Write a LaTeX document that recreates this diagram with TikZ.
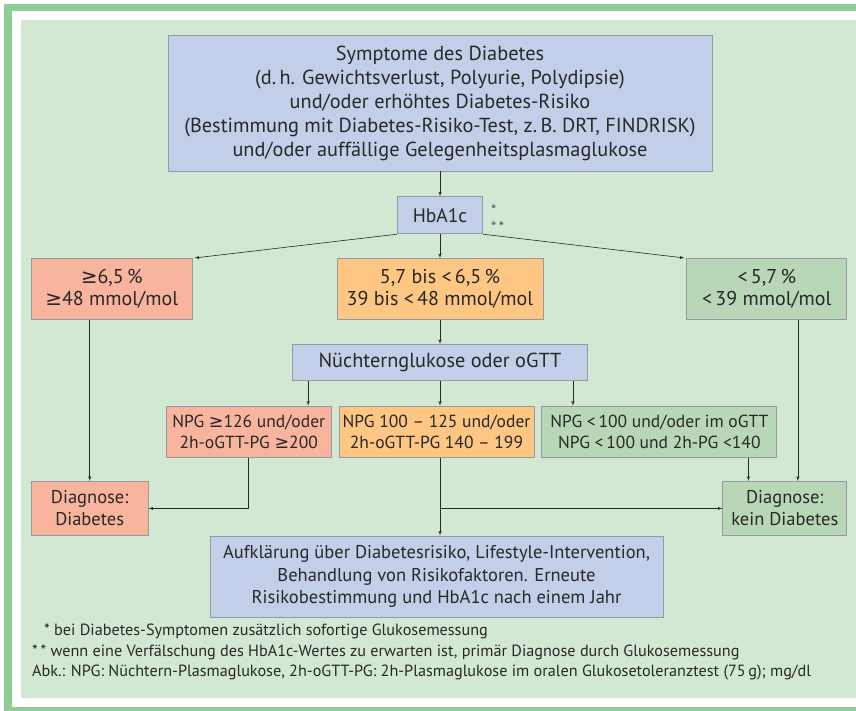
\documentclass[tikz,border=0pt]{standalone}
\usepackage{fontspec}
\setmainfont{PT Sans}
\newfontfamily\symfont{DejaVu Sans}
\newcommand{\gesym}{{\symfont ≥}}
\usepackage{tikz}
\usetikzlibrary{arrows,positioning,calc}
\definecolor{framegreen}{RGB}{143,204,150}
\definecolor{bggreen}{RGB}{211,232,211}
\definecolor{boxblue}{RGB}{195,206,232}
\definecolor{boxred}{RGB}{248,180,156}
\definecolor{boxorange}{RGB}{253,198,130}
\definecolor{boxgreen}{RGB}{183,215,183}
\definecolor{edgegray}{RGB}{150,152,162}
\definecolor{ink}{RGB}{40,40,40}
\tikzset{
    block/.style={rectangle, draw=edgegray, line width=0.8pt, text=ink, align=center, inner sep=0pt},
    infobox/.style={block, fill=boxblue},
    highbox/.style={block, fill=boxred},
    midbox/.style={block, fill=boxorange},
    lowbox/.style={block, fill=boxgreen},
    line/.style={draw=ink, line width=0.6pt, -latex'},
    note/.style={anchor=west, inner sep=0pt, text=ink, font=\fontsize{16.2}{18}\selectfont}
}

\begin{document}
\begin{tikzpicture}[x=1pt, y=-1pt]
    % Frame
    \useasboundingbox (0,0) rectangle (856,711);
    \fill [framegreen] (4,4) rectangle (856,711);
    \fill [white] (12,11) rectangle (856,707);
    \fill [bggreen] (21,20) rectangle (856,698);

    % Start
    \node [infobox, minimum width=544pt, minimum height=136pt, font=\fontsize{20.3}{24}\selectfont] (symptome) at (440,103)
        {Symptome des Diabetes\\(d.\,h. Gewichtsverlust, Polyurie, Polydipsie)\\und/oder erhöhtes Diabetes-Risiko\\(Bestimmung mit Diabetes-Risiko-Test, z.\,B. DRT, FINDRISK)\\und/oder auffällige Gelegenheitsplasmaglukose};
    \node [infobox, minimum width=85pt, minimum height=37pt, font=\fontsize{19.5}{24}\selectfont, below=25pt of symptome] (hba) {HbA1c};
    \node [anchor=west, inner sep=0pt, text=ink!80, font=\fontsize{15}{16}\selectfont] (star1) at ($(hba.east)+(8pt,5pt)$) {*};
    \node [anchor=west, inner sep=0pt, text=ink!80, font=\fontsize{15}{16}\selectfont] (star2) at ($(hba.east)+(8pt,-12pt)$) {*\,*};

    % HbA1c ranges
    \node [midbox, minimum width=206pt, minimum height=61pt, font=\fontsize{20}{22}\selectfont, below=24pt of hba] (mid) {5,7 bis <\,6,5\,\%\\39 bis <\,48 mmol/mol};
    \node [highbox, minimum width=161pt, minimum height=61pt, font=\fontsize{20}{22}\selectfont, left=144pt of mid] (high) {\gesym6,5\,\%\\\gesym48 mmol/mol};
    \node [lowbox, minimum width=160pt, minimum height=61pt, font=\fontsize{20}{22}\selectfont, right=143pt of mid] (low) {<\,5,7\,\%\\<\,39 mmol/mol};

    % Glucose
    \node [infobox, minimum width=295pt, minimum height=36pt, font=\fontsize{20.3}{22}\selectfont, below=24pt of mid] (ngl) {Nüchternglukose oder oGTT};
    \node [midbox, minimum width=195pt, minimum height=51pt, font=\fontsize{17.5}{21}\selectfont, below=25pt of ngl, xshift=-3.5pt] (npgmid) {NPG 100 – 125 und/oder\\2h-oGTT-PG 140 – 199};
    \node [highbox, minimum width=165pt, minimum height=51pt, font=\fontsize{17.5}{21}\selectfont, left=7pt of npgmid] (npghigh) {NPG \gesym126 und/oder\\2h-oGTT-PG \gesym200};
    \node [lowbox, minimum width=235pt, minimum height=51pt, font=\fontsize{17.5}{21}\selectfont, right=7pt of npgmid] (npglow) {NPG <\,100 und/oder im oGTT\\NPG <\,100 und 2h-PG <140};

    % Results
    \node [highbox, minimum width=117pt, minimum height=54pt, font=\fontsize{18.5}{22}\selectfont, below=161pt of high.south west, anchor=north west] (diab) {Diagnose:\\Diabetes};
    \node [lowbox, minimum width=124pt, minimum height=54pt, font=\fontsize{18.5}{22}\selectfont, below=161pt of low.south east, anchor=north east] (nodiab) {Diagnose:\\kein Diabetes};
    \node [infobox, minimum width=453pt, minimum height=81pt, font=\fontsize{18.5}{22.5}\selectfont, below=78pt of npgmid] (info) {Aufklärung über Diabetesrisiko, Lifestyle-Intervention,\\Behandlung von Risikofaktoren. Erneute\\Risikobestimmung und HbA1c nach einem Jahr};

    % Arrows
    \path [line] (symptome) -- (hba);
    \path [line] (hba) -- (mid);
    \path [line, shorten >=2pt] (hba.south west) -- (high.north east);
    \path [line, shorten >=2pt] (hba.south east) -- (low.north west);
    \path [line] (mid) -- (ngl);
    \path [line] ([xshift=16pt]ngl.south west) -- ([xshift=16pt]ngl.south west |- npghigh.north);
    \path [line] (ngl.south) -- (ngl.south |- npgmid.north);
    \path [line] ([xshift=-15pt]ngl.south east) -- ([xshift=-15pt]ngl.south east |- npglow.north);
    \path [line] (diab.north |- high.south) -- (diab.north);
    \path [line] ([xshift=13pt]nodiab.north |- low.south) -- ([xshift=13pt]nodiab.north);
    \path [line] ([xshift=26pt]nodiab.north west |- npglow.south) -- ([xshift=26pt]nodiab.north west);
    \path [line] (npghigh.south) |- (diab.east);
    \path [line] (npgmid.south -| mid) |- (nodiab.west);
    \path [line] (npgmid.south -| mid) -- (info.north -| mid);

    % Notes
    \node [note] (fn1) at (44,631) {* bei Diabetes-Symptomen zusätzlich sofortige Glukosemessung};
    \node [note] (fn2) at (32,652) {*\,* wenn eine Verfälschung des HbA1c-Wertes zu erwarten ist, primär Diagnose durch Glukosemessung};
    \node [note] (fn3) at (32,673) {Abk.: NPG: Nüchtern-Plasmaglukose, 2h-oGTT-PG: 2h-Plasmaglukose im oralen Glukosetoleranztest (75\,g); mg/dl};
\end{tikzpicture}
\end{document}
